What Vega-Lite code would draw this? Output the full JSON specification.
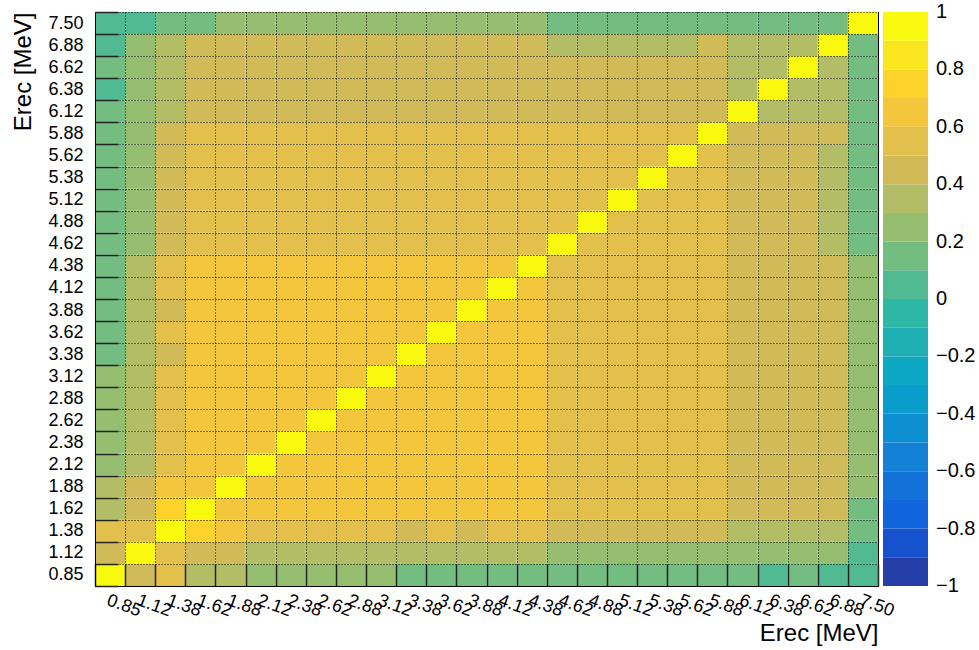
{
"$schema": "https://vega.github.io/schema/vega-lite/v6.json",
"width": 783, "height": 574,
"autosize": {"type": "none"},
"padding": {"left": 95, "top": 12, "right": 101, "bottom": 64},
"background": "white",
"config": {
  "font": "Liberation Sans",
  "view": {"stroke": "#000", "strokeWidth": 1},
  "axis": {"labelColor": "#000", "titleColor": "#000", "titleFontWeight": "normal", "domainColor": "#000", "tickColor": "#222", "tickWidth": 1.5, "gridColor": "#000", "gridDash": [1, 2], "gridOpacity": 1, "gridWidth": 1, "labelFont": "Liberation Sans", "titleFont": "Liberation Sans"}
},
"data": {"values": [
{"x":"0.85","y":"0.85","v":1},{"x":"1.12","y":"0.85","v":0.45},{"x":"1.38","y":"0.85","v":0.55},{"x":"1.62","y":"0.85","v":0.35},{"x":"1.88","y":"0.85","v":0.35},{"x":"2.12","y":"0.85","v":0.25},{"x":"2.38","y":"0.85","v":0.25},{"x":"2.62","y":"0.85","v":0.25},{"x":"2.88","y":"0.85","v":0.25},{"x":"3.12","y":"0.85","v":0.25},{"x":"3.38","y":"0.85","v":0.15},{"x":"3.62","y":"0.85","v":0.15},{"x":"3.88","y":"0.85","v":0.15},{"x":"4.12","y":"0.85","v":0.15},{"x":"4.38","y":"0.85","v":0.15},{"x":"4.62","y":"0.85","v":0.15},{"x":"4.88","y":"0.85","v":0.15},{"x":"5.12","y":"0.85","v":0.15},{"x":"5.38","y":"0.85","v":0.15},{"x":"5.62","y":"0.85","v":0.15},{"x":"5.88","y":"0.85","v":0.15},{"x":"6.12","y":"0.85","v":0.15},{"x":"6.38","y":"0.85","v":0.05},{"x":"6.62","y":"0.85","v":0.15},{"x":"6.88","y":"0.85","v":0.05},{"x":"7.50","y":"0.85","v":0.05},
{"x":"0.85","y":"1.12","v":0.45},{"x":"1.12","y":"1.12","v":1},{"x":"1.38","y":"1.12","v":0.55},{"x":"1.62","y":"1.12","v":0.45},{"x":"1.88","y":"1.12","v":0.45},{"x":"2.12","y":"1.12","v":0.35},{"x":"2.38","y":"1.12","v":0.35},{"x":"2.62","y":"1.12","v":0.35},{"x":"2.88","y":"1.12","v":0.35},{"x":"3.12","y":"1.12","v":0.35},{"x":"3.38","y":"1.12","v":0.35},{"x":"3.62","y":"1.12","v":0.35},{"x":"3.88","y":"1.12","v":0.35},{"x":"4.12","y":"1.12","v":0.35},{"x":"4.38","y":"1.12","v":0.35},{"x":"4.62","y":"1.12","v":0.25},{"x":"4.88","y":"1.12","v":0.25},{"x":"5.12","y":"1.12","v":0.25},{"x":"5.38","y":"1.12","v":0.25},{"x":"5.62","y":"1.12","v":0.25},{"x":"5.88","y":"1.12","v":0.25},{"x":"6.12","y":"1.12","v":0.25},{"x":"6.38","y":"1.12","v":0.25},{"x":"6.62","y":"1.12","v":0.25},{"x":"6.88","y":"1.12","v":0.25},{"x":"7.50","y":"1.12","v":0.05},
{"x":"0.85","y":"1.38","v":0.55},{"x":"1.12","y":"1.38","v":0.55},{"x":"1.38","y":"1.38","v":1},{"x":"1.62","y":"1.38","v":0.75},{"x":"1.88","y":"1.38","v":0.65},{"x":"2.12","y":"1.38","v":0.55},{"x":"2.38","y":"1.38","v":0.55},{"x":"2.62","y":"1.38","v":0.55},{"x":"2.88","y":"1.38","v":0.55},{"x":"3.12","y":"1.38","v":0.55},{"x":"3.38","y":"1.38","v":0.45},{"x":"3.62","y":"1.38","v":0.55},{"x":"3.88","y":"1.38","v":0.45},{"x":"4.12","y":"1.38","v":0.55},{"x":"4.38","y":"1.38","v":0.55},{"x":"4.62","y":"1.38","v":0.45},{"x":"4.88","y":"1.38","v":0.45},{"x":"5.12","y":"1.38","v":0.45},{"x":"5.38","y":"1.38","v":0.45},{"x":"5.62","y":"1.38","v":0.45},{"x":"5.88","y":"1.38","v":0.45},{"x":"6.12","y":"1.38","v":0.35},{"x":"6.38","y":"1.38","v":0.35},{"x":"6.62","y":"1.38","v":0.35},{"x":"6.88","y":"1.38","v":0.35},{"x":"7.50","y":"1.38","v":0.15},
{"x":"0.85","y":"1.62","v":0.35},{"x":"1.12","y":"1.62","v":0.45},{"x":"1.38","y":"1.62","v":0.75},{"x":"1.62","y":"1.62","v":1},{"x":"1.88","y":"1.62","v":0.65},{"x":"2.12","y":"1.62","v":0.65},{"x":"2.38","y":"1.62","v":0.65},{"x":"2.62","y":"1.62","v":0.65},{"x":"2.88","y":"1.62","v":0.65},{"x":"3.12","y":"1.62","v":0.65},{"x":"3.38","y":"1.62","v":0.65},{"x":"3.62","y":"1.62","v":0.65},{"x":"3.88","y":"1.62","v":0.65},{"x":"4.12","y":"1.62","v":0.65},{"x":"4.38","y":"1.62","v":0.65},{"x":"4.62","y":"1.62","v":0.55},{"x":"4.88","y":"1.62","v":0.55},{"x":"5.12","y":"1.62","v":0.55},{"x":"5.38","y":"1.62","v":0.55},{"x":"5.62","y":"1.62","v":0.55},{"x":"5.88","y":"1.62","v":0.55},{"x":"6.12","y":"1.62","v":0.45},{"x":"6.38","y":"1.62","v":0.45},{"x":"6.62","y":"1.62","v":0.45},{"x":"6.88","y":"1.62","v":0.45},{"x":"7.50","y":"1.62","v":0.15},
{"x":"0.85","y":"1.88","v":0.35},{"x":"1.12","y":"1.88","v":0.45},{"x":"1.38","y":"1.88","v":0.65},{"x":"1.62","y":"1.88","v":0.65},{"x":"1.88","y":"1.88","v":1},{"x":"2.12","y":"1.88","v":0.65},{"x":"2.38","y":"1.88","v":0.65},{"x":"2.62","y":"1.88","v":0.65},{"x":"2.88","y":"1.88","v":0.65},{"x":"3.12","y":"1.88","v":0.65},{"x":"3.38","y":"1.88","v":0.65},{"x":"3.62","y":"1.88","v":0.65},{"x":"3.88","y":"1.88","v":0.65},{"x":"4.12","y":"1.88","v":0.65},{"x":"4.38","y":"1.88","v":0.65},{"x":"4.62","y":"1.88","v":0.55},{"x":"4.88","y":"1.88","v":0.55},{"x":"5.12","y":"1.88","v":0.55},{"x":"5.38","y":"1.88","v":0.55},{"x":"5.62","y":"1.88","v":0.55},{"x":"5.88","y":"1.88","v":0.55},{"x":"6.12","y":"1.88","v":0.45},{"x":"6.38","y":"1.88","v":0.45},{"x":"6.62","y":"1.88","v":0.45},{"x":"6.88","y":"1.88","v":0.45},{"x":"7.50","y":"1.88","v":0.25},
{"x":"0.85","y":"2.12","v":0.25},{"x":"1.12","y":"2.12","v":0.35},{"x":"1.38","y":"2.12","v":0.55},{"x":"1.62","y":"2.12","v":0.65},{"x":"1.88","y":"2.12","v":0.65},{"x":"2.12","y":"2.12","v":1},{"x":"2.38","y":"2.12","v":0.65},{"x":"2.62","y":"2.12","v":0.65},{"x":"2.88","y":"2.12","v":0.65},{"x":"3.12","y":"2.12","v":0.65},{"x":"3.38","y":"2.12","v":0.65},{"x":"3.62","y":"2.12","v":0.65},{"x":"3.88","y":"2.12","v":0.65},{"x":"4.12","y":"2.12","v":0.65},{"x":"4.38","y":"2.12","v":0.65},{"x":"4.62","y":"2.12","v":0.55},{"x":"4.88","y":"2.12","v":0.55},{"x":"5.12","y":"2.12","v":0.55},{"x":"5.38","y":"2.12","v":0.55},{"x":"5.62","y":"2.12","v":0.55},{"x":"5.88","y":"2.12","v":0.55},{"x":"6.12","y":"2.12","v":0.45},{"x":"6.38","y":"2.12","v":0.45},{"x":"6.62","y":"2.12","v":0.45},{"x":"6.88","y":"2.12","v":0.45},{"x":"7.50","y":"2.12","v":0.25},
{"x":"0.85","y":"2.38","v":0.25},{"x":"1.12","y":"2.38","v":0.35},{"x":"1.38","y":"2.38","v":0.55},{"x":"1.62","y":"2.38","v":0.65},{"x":"1.88","y":"2.38","v":0.65},{"x":"2.12","y":"2.38","v":0.65},{"x":"2.38","y":"2.38","v":1},{"x":"2.62","y":"2.38","v":0.65},{"x":"2.88","y":"2.38","v":0.65},{"x":"3.12","y":"2.38","v":0.65},{"x":"3.38","y":"2.38","v":0.65},{"x":"3.62","y":"2.38","v":0.65},{"x":"3.88","y":"2.38","v":0.65},{"x":"4.12","y":"2.38","v":0.65},{"x":"4.38","y":"2.38","v":0.65},{"x":"4.62","y":"2.38","v":0.55},{"x":"4.88","y":"2.38","v":0.55},{"x":"5.12","y":"2.38","v":0.55},{"x":"5.38","y":"2.38","v":0.55},{"x":"5.62","y":"2.38","v":0.55},{"x":"5.88","y":"2.38","v":0.55},{"x":"6.12","y":"2.38","v":0.45},{"x":"6.38","y":"2.38","v":0.45},{"x":"6.62","y":"2.38","v":0.45},{"x":"6.88","y":"2.38","v":0.45},{"x":"7.50","y":"2.38","v":0.25},
{"x":"0.85","y":"2.62","v":0.25},{"x":"1.12","y":"2.62","v":0.35},{"x":"1.38","y":"2.62","v":0.55},{"x":"1.62","y":"2.62","v":0.65},{"x":"1.88","y":"2.62","v":0.65},{"x":"2.12","y":"2.62","v":0.65},{"x":"2.38","y":"2.62","v":0.65},{"x":"2.62","y":"2.62","v":1},{"x":"2.88","y":"2.62","v":0.65},{"x":"3.12","y":"2.62","v":0.65},{"x":"3.38","y":"2.62","v":0.65},{"x":"3.62","y":"2.62","v":0.65},{"x":"3.88","y":"2.62","v":0.65},{"x":"4.12","y":"2.62","v":0.65},{"x":"4.38","y":"2.62","v":0.65},{"x":"4.62","y":"2.62","v":0.55},{"x":"4.88","y":"2.62","v":0.55},{"x":"5.12","y":"2.62","v":0.55},{"x":"5.38","y":"2.62","v":0.55},{"x":"5.62","y":"2.62","v":0.55},{"x":"5.88","y":"2.62","v":0.55},{"x":"6.12","y":"2.62","v":0.45},{"x":"6.38","y":"2.62","v":0.45},{"x":"6.62","y":"2.62","v":0.45},{"x":"6.88","y":"2.62","v":0.45},{"x":"7.50","y":"2.62","v":0.25},
{"x":"0.85","y":"2.88","v":0.25},{"x":"1.12","y":"2.88","v":0.35},{"x":"1.38","y":"2.88","v":0.55},{"x":"1.62","y":"2.88","v":0.65},{"x":"1.88","y":"2.88","v":0.65},{"x":"2.12","y":"2.88","v":0.65},{"x":"2.38","y":"2.88","v":0.65},{"x":"2.62","y":"2.88","v":0.65},{"x":"2.88","y":"2.88","v":1},{"x":"3.12","y":"2.88","v":0.65},{"x":"3.38","y":"2.88","v":0.65},{"x":"3.62","y":"2.88","v":0.65},{"x":"3.88","y":"2.88","v":0.65},{"x":"4.12","y":"2.88","v":0.65},{"x":"4.38","y":"2.88","v":0.65},{"x":"4.62","y":"2.88","v":0.55},{"x":"4.88","y":"2.88","v":0.55},{"x":"5.12","y":"2.88","v":0.55},{"x":"5.38","y":"2.88","v":0.55},{"x":"5.62","y":"2.88","v":0.55},{"x":"5.88","y":"2.88","v":0.55},{"x":"6.12","y":"2.88","v":0.45},{"x":"6.38","y":"2.88","v":0.45},{"x":"6.62","y":"2.88","v":0.45},{"x":"6.88","y":"2.88","v":0.45},{"x":"7.50","y":"2.88","v":0.25},
{"x":"0.85","y":"3.12","v":0.25},{"x":"1.12","y":"3.12","v":0.35},{"x":"1.38","y":"3.12","v":0.55},{"x":"1.62","y":"3.12","v":0.65},{"x":"1.88","y":"3.12","v":0.65},{"x":"2.12","y":"3.12","v":0.65},{"x":"2.38","y":"3.12","v":0.65},{"x":"2.62","y":"3.12","v":0.65},{"x":"2.88","y":"3.12","v":0.65},{"x":"3.12","y":"3.12","v":1},{"x":"3.38","y":"3.12","v":0.65},{"x":"3.62","y":"3.12","v":0.65},{"x":"3.88","y":"3.12","v":0.65},{"x":"4.12","y":"3.12","v":0.65},{"x":"4.38","y":"3.12","v":0.65},{"x":"4.62","y":"3.12","v":0.55},{"x":"4.88","y":"3.12","v":0.55},{"x":"5.12","y":"3.12","v":0.55},{"x":"5.38","y":"3.12","v":0.55},{"x":"5.62","y":"3.12","v":0.55},{"x":"5.88","y":"3.12","v":0.55},{"x":"6.12","y":"3.12","v":0.45},{"x":"6.38","y":"3.12","v":0.45},{"x":"6.62","y":"3.12","v":0.45},{"x":"6.88","y":"3.12","v":0.45},{"x":"7.50","y":"3.12","v":0.25},
{"x":"0.85","y":"3.38","v":0.15},{"x":"1.12","y":"3.38","v":0.35},{"x":"1.38","y":"3.38","v":0.45},{"x":"1.62","y":"3.38","v":0.65},{"x":"1.88","y":"3.38","v":0.65},{"x":"2.12","y":"3.38","v":0.65},{"x":"2.38","y":"3.38","v":0.65},{"x":"2.62","y":"3.38","v":0.65},{"x":"2.88","y":"3.38","v":0.65},{"x":"3.12","y":"3.38","v":0.65},{"x":"3.38","y":"3.38","v":1},{"x":"3.62","y":"3.38","v":0.65},{"x":"3.88","y":"3.38","v":0.65},{"x":"4.12","y":"3.38","v":0.65},{"x":"4.38","y":"3.38","v":0.65},{"x":"4.62","y":"3.38","v":0.55},{"x":"4.88","y":"3.38","v":0.55},{"x":"5.12","y":"3.38","v":0.55},{"x":"5.38","y":"3.38","v":0.55},{"x":"5.62","y":"3.38","v":0.55},{"x":"5.88","y":"3.38","v":0.55},{"x":"6.12","y":"3.38","v":0.45},{"x":"6.38","y":"3.38","v":0.45},{"x":"6.62","y":"3.38","v":0.45},{"x":"6.88","y":"3.38","v":0.45},{"x":"7.50","y":"3.38","v":0.25},
{"x":"0.85","y":"3.62","v":0.15},{"x":"1.12","y":"3.62","v":0.35},{"x":"1.38","y":"3.62","v":0.55},{"x":"1.62","y":"3.62","v":0.65},{"x":"1.88","y":"3.62","v":0.65},{"x":"2.12","y":"3.62","v":0.65},{"x":"2.38","y":"3.62","v":0.65},{"x":"2.62","y":"3.62","v":0.65},{"x":"2.88","y":"3.62","v":0.65},{"x":"3.12","y":"3.62","v":0.65},{"x":"3.38","y":"3.62","v":0.65},{"x":"3.62","y":"3.62","v":1},{"x":"3.88","y":"3.62","v":0.65},{"x":"4.12","y":"3.62","v":0.65},{"x":"4.38","y":"3.62","v":0.65},{"x":"4.62","y":"3.62","v":0.55},{"x":"4.88","y":"3.62","v":0.55},{"x":"5.12","y":"3.62","v":0.55},{"x":"5.38","y":"3.62","v":0.55},{"x":"5.62","y":"3.62","v":0.55},{"x":"5.88","y":"3.62","v":0.55},{"x":"6.12","y":"3.62","v":0.45},{"x":"6.38","y":"3.62","v":0.45},{"x":"6.62","y":"3.62","v":0.45},{"x":"6.88","y":"3.62","v":0.45},{"x":"7.50","y":"3.62","v":0.25},
{"x":"0.85","y":"3.88","v":0.15},{"x":"1.12","y":"3.88","v":0.35},{"x":"1.38","y":"3.88","v":0.45},{"x":"1.62","y":"3.88","v":0.65},{"x":"1.88","y":"3.88","v":0.65},{"x":"2.12","y":"3.88","v":0.65},{"x":"2.38","y":"3.88","v":0.65},{"x":"2.62","y":"3.88","v":0.65},{"x":"2.88","y":"3.88","v":0.65},{"x":"3.12","y":"3.88","v":0.65},{"x":"3.38","y":"3.88","v":0.65},{"x":"3.62","y":"3.88","v":0.65},{"x":"3.88","y":"3.88","v":1},{"x":"4.12","y":"3.88","v":0.65},{"x":"4.38","y":"3.88","v":0.65},{"x":"4.62","y":"3.88","v":0.55},{"x":"4.88","y":"3.88","v":0.55},{"x":"5.12","y":"3.88","v":0.55},{"x":"5.38","y":"3.88","v":0.55},{"x":"5.62","y":"3.88","v":0.55},{"x":"5.88","y":"3.88","v":0.55},{"x":"6.12","y":"3.88","v":0.45},{"x":"6.38","y":"3.88","v":0.45},{"x":"6.62","y":"3.88","v":0.45},{"x":"6.88","y":"3.88","v":0.45},{"x":"7.50","y":"3.88","v":0.25},
{"x":"0.85","y":"4.12","v":0.15},{"x":"1.12","y":"4.12","v":0.35},{"x":"1.38","y":"4.12","v":0.55},{"x":"1.62","y":"4.12","v":0.65},{"x":"1.88","y":"4.12","v":0.65},{"x":"2.12","y":"4.12","v":0.65},{"x":"2.38","y":"4.12","v":0.65},{"x":"2.62","y":"4.12","v":0.65},{"x":"2.88","y":"4.12","v":0.65},{"x":"3.12","y":"4.12","v":0.65},{"x":"3.38","y":"4.12","v":0.65},{"x":"3.62","y":"4.12","v":0.65},{"x":"3.88","y":"4.12","v":0.65},{"x":"4.12","y":"4.12","v":1},{"x":"4.38","y":"4.12","v":0.65},{"x":"4.62","y":"4.12","v":0.55},{"x":"4.88","y":"4.12","v":0.55},{"x":"5.12","y":"4.12","v":0.55},{"x":"5.38","y":"4.12","v":0.55},{"x":"5.62","y":"4.12","v":0.55},{"x":"5.88","y":"4.12","v":0.55},{"x":"6.12","y":"4.12","v":0.45},{"x":"6.38","y":"4.12","v":0.45},{"x":"6.62","y":"4.12","v":0.45},{"x":"6.88","y":"4.12","v":0.45},{"x":"7.50","y":"4.12","v":0.25},
{"x":"0.85","y":"4.38","v":0.15},{"x":"1.12","y":"4.38","v":0.35},{"x":"1.38","y":"4.38","v":0.55},{"x":"1.62","y":"4.38","v":0.65},{"x":"1.88","y":"4.38","v":0.65},{"x":"2.12","y":"4.38","v":0.65},{"x":"2.38","y":"4.38","v":0.65},{"x":"2.62","y":"4.38","v":0.65},{"x":"2.88","y":"4.38","v":0.65},{"x":"3.12","y":"4.38","v":0.65},{"x":"3.38","y":"4.38","v":0.65},{"x":"3.62","y":"4.38","v":0.65},{"x":"3.88","y":"4.38","v":0.65},{"x":"4.12","y":"4.38","v":0.65},{"x":"4.38","y":"4.38","v":1},{"x":"4.62","y":"4.38","v":0.55},{"x":"4.88","y":"4.38","v":0.55},{"x":"5.12","y":"4.38","v":0.55},{"x":"5.38","y":"4.38","v":0.55},{"x":"5.62","y":"4.38","v":0.55},{"x":"5.88","y":"4.38","v":0.55},{"x":"6.12","y":"4.38","v":0.45},{"x":"6.38","y":"4.38","v":0.45},{"x":"6.62","y":"4.38","v":0.45},{"x":"6.88","y":"4.38","v":0.45},{"x":"7.50","y":"4.38","v":0.25},
{"x":"0.85","y":"4.62","v":0.15},{"x":"1.12","y":"4.62","v":0.25},{"x":"1.38","y":"4.62","v":0.45},{"x":"1.62","y":"4.62","v":0.55},{"x":"1.88","y":"4.62","v":0.55},{"x":"2.12","y":"4.62","v":0.55},{"x":"2.38","y":"4.62","v":0.55},{"x":"2.62","y":"4.62","v":0.55},{"x":"2.88","y":"4.62","v":0.55},{"x":"3.12","y":"4.62","v":0.55},{"x":"3.38","y":"4.62","v":0.55},{"x":"3.62","y":"4.62","v":0.55},{"x":"3.88","y":"4.62","v":0.55},{"x":"4.12","y":"4.62","v":0.55},{"x":"4.38","y":"4.62","v":0.55},{"x":"4.62","y":"4.62","v":1},{"x":"4.88","y":"4.62","v":0.55},{"x":"5.12","y":"4.62","v":0.55},{"x":"5.38","y":"4.62","v":0.55},{"x":"5.62","y":"4.62","v":0.55},{"x":"5.88","y":"4.62","v":0.55},{"x":"6.12","y":"4.62","v":0.45},{"x":"6.38","y":"4.62","v":0.45},{"x":"6.62","y":"4.62","v":0.45},{"x":"6.88","y":"4.62","v":0.35},{"x":"7.50","y":"4.62","v":0.15},
{"x":"0.85","y":"4.88","v":0.15},{"x":"1.12","y":"4.88","v":0.25},{"x":"1.38","y":"4.88","v":0.45},{"x":"1.62","y":"4.88","v":0.55},{"x":"1.88","y":"4.88","v":0.55},{"x":"2.12","y":"4.88","v":0.55},{"x":"2.38","y":"4.88","v":0.55},{"x":"2.62","y":"4.88","v":0.55},{"x":"2.88","y":"4.88","v":0.55},{"x":"3.12","y":"4.88","v":0.55},{"x":"3.38","y":"4.88","v":0.55},{"x":"3.62","y":"4.88","v":0.55},{"x":"3.88","y":"4.88","v":0.55},{"x":"4.12","y":"4.88","v":0.55},{"x":"4.38","y":"4.88","v":0.55},{"x":"4.62","y":"4.88","v":0.55},{"x":"4.88","y":"4.88","v":1},{"x":"5.12","y":"4.88","v":0.55},{"x":"5.38","y":"4.88","v":0.55},{"x":"5.62","y":"4.88","v":0.55},{"x":"5.88","y":"4.88","v":0.55},{"x":"6.12","y":"4.88","v":0.45},{"x":"6.38","y":"4.88","v":0.45},{"x":"6.62","y":"4.88","v":0.45},{"x":"6.88","y":"4.88","v":0.35},{"x":"7.50","y":"4.88","v":0.15},
{"x":"0.85","y":"5.12","v":0.15},{"x":"1.12","y":"5.12","v":0.25},{"x":"1.38","y":"5.12","v":0.45},{"x":"1.62","y":"5.12","v":0.55},{"x":"1.88","y":"5.12","v":0.55},{"x":"2.12","y":"5.12","v":0.55},{"x":"2.38","y":"5.12","v":0.55},{"x":"2.62","y":"5.12","v":0.55},{"x":"2.88","y":"5.12","v":0.55},{"x":"3.12","y":"5.12","v":0.55},{"x":"3.38","y":"5.12","v":0.55},{"x":"3.62","y":"5.12","v":0.55},{"x":"3.88","y":"5.12","v":0.55},{"x":"4.12","y":"5.12","v":0.55},{"x":"4.38","y":"5.12","v":0.55},{"x":"4.62","y":"5.12","v":0.55},{"x":"4.88","y":"5.12","v":0.55},{"x":"5.12","y":"5.12","v":1},{"x":"5.38","y":"5.12","v":0.55},{"x":"5.62","y":"5.12","v":0.55},{"x":"5.88","y":"5.12","v":0.55},{"x":"6.12","y":"5.12","v":0.45},{"x":"6.38","y":"5.12","v":0.45},{"x":"6.62","y":"5.12","v":0.45},{"x":"6.88","y":"5.12","v":0.35},{"x":"7.50","y":"5.12","v":0.15},
{"x":"0.85","y":"5.38","v":0.15},{"x":"1.12","y":"5.38","v":0.25},{"x":"1.38","y":"5.38","v":0.45},{"x":"1.62","y":"5.38","v":0.55},{"x":"1.88","y":"5.38","v":0.55},{"x":"2.12","y":"5.38","v":0.55},{"x":"2.38","y":"5.38","v":0.55},{"x":"2.62","y":"5.38","v":0.55},{"x":"2.88","y":"5.38","v":0.55},{"x":"3.12","y":"5.38","v":0.55},{"x":"3.38","y":"5.38","v":0.55},{"x":"3.62","y":"5.38","v":0.55},{"x":"3.88","y":"5.38","v":0.55},{"x":"4.12","y":"5.38","v":0.55},{"x":"4.38","y":"5.38","v":0.55},{"x":"4.62","y":"5.38","v":0.55},{"x":"4.88","y":"5.38","v":0.55},{"x":"5.12","y":"5.38","v":0.55},{"x":"5.38","y":"5.38","v":1},{"x":"5.62","y":"5.38","v":0.55},{"x":"5.88","y":"5.38","v":0.55},{"x":"6.12","y":"5.38","v":0.45},{"x":"6.38","y":"5.38","v":0.45},{"x":"6.62","y":"5.38","v":0.45},{"x":"6.88","y":"5.38","v":0.35},{"x":"7.50","y":"5.38","v":0.15},
{"x":"0.85","y":"5.62","v":0.15},{"x":"1.12","y":"5.62","v":0.25},{"x":"1.38","y":"5.62","v":0.45},{"x":"1.62","y":"5.62","v":0.55},{"x":"1.88","y":"5.62","v":0.55},{"x":"2.12","y":"5.62","v":0.55},{"x":"2.38","y":"5.62","v":0.55},{"x":"2.62","y":"5.62","v":0.55},{"x":"2.88","y":"5.62","v":0.55},{"x":"3.12","y":"5.62","v":0.55},{"x":"3.38","y":"5.62","v":0.55},{"x":"3.62","y":"5.62","v":0.55},{"x":"3.88","y":"5.62","v":0.55},{"x":"4.12","y":"5.62","v":0.55},{"x":"4.38","y":"5.62","v":0.55},{"x":"4.62","y":"5.62","v":0.55},{"x":"4.88","y":"5.62","v":0.55},{"x":"5.12","y":"5.62","v":0.55},{"x":"5.38","y":"5.62","v":0.55},{"x":"5.62","y":"5.62","v":1},{"x":"5.88","y":"5.62","v":0.55},{"x":"6.12","y":"5.62","v":0.45},{"x":"6.38","y":"5.62","v":0.45},{"x":"6.62","y":"5.62","v":0.45},{"x":"6.88","y":"5.62","v":0.35},{"x":"7.50","y":"5.62","v":0.15},
{"x":"0.85","y":"5.88","v":0.15},{"x":"1.12","y":"5.88","v":0.25},{"x":"1.38","y":"5.88","v":0.45},{"x":"1.62","y":"5.88","v":0.55},{"x":"1.88","y":"5.88","v":0.55},{"x":"2.12","y":"5.88","v":0.55},{"x":"2.38","y":"5.88","v":0.55},{"x":"2.62","y":"5.88","v":0.55},{"x":"2.88","y":"5.88","v":0.55},{"x":"3.12","y":"5.88","v":0.55},{"x":"3.38","y":"5.88","v":0.55},{"x":"3.62","y":"5.88","v":0.55},{"x":"3.88","y":"5.88","v":0.55},{"x":"4.12","y":"5.88","v":0.55},{"x":"4.38","y":"5.88","v":0.55},{"x":"4.62","y":"5.88","v":0.55},{"x":"4.88","y":"5.88","v":0.55},{"x":"5.12","y":"5.88","v":0.55},{"x":"5.38","y":"5.88","v":0.55},{"x":"5.62","y":"5.88","v":0.55},{"x":"5.88","y":"5.88","v":1},{"x":"6.12","y":"5.88","v":0.45},{"x":"6.38","y":"5.88","v":0.45},{"x":"6.62","y":"5.88","v":0.45},{"x":"6.88","y":"5.88","v":0.45},{"x":"7.50","y":"5.88","v":0.15},
{"x":"0.85","y":"6.12","v":0.15},{"x":"1.12","y":"6.12","v":0.25},{"x":"1.38","y":"6.12","v":0.35},{"x":"1.62","y":"6.12","v":0.45},{"x":"1.88","y":"6.12","v":0.45},{"x":"2.12","y":"6.12","v":0.45},{"x":"2.38","y":"6.12","v":0.45},{"x":"2.62","y":"6.12","v":0.45},{"x":"2.88","y":"6.12","v":0.45},{"x":"3.12","y":"6.12","v":0.45},{"x":"3.38","y":"6.12","v":0.45},{"x":"3.62","y":"6.12","v":0.45},{"x":"3.88","y":"6.12","v":0.45},{"x":"4.12","y":"6.12","v":0.45},{"x":"4.38","y":"6.12","v":0.45},{"x":"4.62","y":"6.12","v":0.45},{"x":"4.88","y":"6.12","v":0.45},{"x":"5.12","y":"6.12","v":0.45},{"x":"5.38","y":"6.12","v":0.45},{"x":"5.62","y":"6.12","v":0.45},{"x":"5.88","y":"6.12","v":0.45},{"x":"6.12","y":"6.12","v":1},{"x":"6.38","y":"6.12","v":0.35},{"x":"6.62","y":"6.12","v":0.35},{"x":"6.88","y":"6.12","v":0.35},{"x":"7.50","y":"6.12","v":0.15},
{"x":"0.85","y":"6.38","v":0.05},{"x":"1.12","y":"6.38","v":0.25},{"x":"1.38","y":"6.38","v":0.35},{"x":"1.62","y":"6.38","v":0.45},{"x":"1.88","y":"6.38","v":0.45},{"x":"2.12","y":"6.38","v":0.45},{"x":"2.38","y":"6.38","v":0.45},{"x":"2.62","y":"6.38","v":0.45},{"x":"2.88","y":"6.38","v":0.45},{"x":"3.12","y":"6.38","v":0.45},{"x":"3.38","y":"6.38","v":0.45},{"x":"3.62","y":"6.38","v":0.45},{"x":"3.88","y":"6.38","v":0.45},{"x":"4.12","y":"6.38","v":0.45},{"x":"4.38","y":"6.38","v":0.45},{"x":"4.62","y":"6.38","v":0.45},{"x":"4.88","y":"6.38","v":0.45},{"x":"5.12","y":"6.38","v":0.45},{"x":"5.38","y":"6.38","v":0.45},{"x":"5.62","y":"6.38","v":0.45},{"x":"5.88","y":"6.38","v":0.45},{"x":"6.12","y":"6.38","v":0.35},{"x":"6.38","y":"6.38","v":1},{"x":"6.62","y":"6.38","v":0.35},{"x":"6.88","y":"6.38","v":0.35},{"x":"7.50","y":"6.38","v":0.15},
{"x":"0.85","y":"6.62","v":0.15},{"x":"1.12","y":"6.62","v":0.25},{"x":"1.38","y":"6.62","v":0.35},{"x":"1.62","y":"6.62","v":0.45},{"x":"1.88","y":"6.62","v":0.45},{"x":"2.12","y":"6.62","v":0.45},{"x":"2.38","y":"6.62","v":0.45},{"x":"2.62","y":"6.62","v":0.45},{"x":"2.88","y":"6.62","v":0.45},{"x":"3.12","y":"6.62","v":0.45},{"x":"3.38","y":"6.62","v":0.45},{"x":"3.62","y":"6.62","v":0.45},{"x":"3.88","y":"6.62","v":0.45},{"x":"4.12","y":"6.62","v":0.45},{"x":"4.38","y":"6.62","v":0.45},{"x":"4.62","y":"6.62","v":0.45},{"x":"4.88","y":"6.62","v":0.45},{"x":"5.12","y":"6.62","v":0.45},{"x":"5.38","y":"6.62","v":0.45},{"x":"5.62","y":"6.62","v":0.45},{"x":"5.88","y":"6.62","v":0.45},{"x":"6.12","y":"6.62","v":0.35},{"x":"6.38","y":"6.62","v":0.35},{"x":"6.62","y":"6.62","v":1},{"x":"6.88","y":"6.62","v":0.35},{"x":"7.50","y":"6.62","v":0.15},
{"x":"0.85","y":"6.88","v":0.05},{"x":"1.12","y":"6.88","v":0.25},{"x":"1.38","y":"6.88","v":0.35},{"x":"1.62","y":"6.88","v":0.45},{"x":"1.88","y":"6.88","v":0.45},{"x":"2.12","y":"6.88","v":0.45},{"x":"2.38","y":"6.88","v":0.45},{"x":"2.62","y":"6.88","v":0.45},{"x":"2.88","y":"6.88","v":0.45},{"x":"3.12","y":"6.88","v":0.45},{"x":"3.38","y":"6.88","v":0.45},{"x":"3.62","y":"6.88","v":0.45},{"x":"3.88","y":"6.88","v":0.45},{"x":"4.12","y":"6.88","v":0.45},{"x":"4.38","y":"6.88","v":0.45},{"x":"4.62","y":"6.88","v":0.35},{"x":"4.88","y":"6.88","v":0.35},{"x":"5.12","y":"6.88","v":0.35},{"x":"5.38","y":"6.88","v":0.35},{"x":"5.62","y":"6.88","v":0.35},{"x":"5.88","y":"6.88","v":0.45},{"x":"6.12","y":"6.88","v":0.35},{"x":"6.38","y":"6.88","v":0.35},{"x":"6.62","y":"6.88","v":0.35},{"x":"6.88","y":"6.88","v":1},{"x":"7.50","y":"6.88","v":0.15},
{"x":"0.85","y":"7.50","v":0.05},{"x":"1.12","y":"7.50","v":0.05},{"x":"1.38","y":"7.50","v":0.15},{"x":"1.62","y":"7.50","v":0.15},{"x":"1.88","y":"7.50","v":0.25},{"x":"2.12","y":"7.50","v":0.25},{"x":"2.38","y":"7.50","v":0.25},{"x":"2.62","y":"7.50","v":0.25},{"x":"2.88","y":"7.50","v":0.25},{"x":"3.12","y":"7.50","v":0.25},{"x":"3.38","y":"7.50","v":0.25},{"x":"3.62","y":"7.50","v":0.25},{"x":"3.88","y":"7.50","v":0.25},{"x":"4.12","y":"7.50","v":0.25},{"x":"4.38","y":"7.50","v":0.25},{"x":"4.62","y":"7.50","v":0.15},{"x":"4.88","y":"7.50","v":0.15},{"x":"5.12","y":"7.50","v":0.15},{"x":"5.38","y":"7.50","v":0.15},{"x":"5.62","y":"7.50","v":0.15},{"x":"5.88","y":"7.50","v":0.15},{"x":"6.12","y":"7.50","v":0.15},{"x":"6.38","y":"7.50","v":0.15},{"x":"6.62","y":"7.50","v":0.15},{"x":"6.88","y":"7.50","v":0.15},{"x":"7.50","y":"7.50","v":1}
]},
"mark": {"type": "rect"},
"encoding": {
  "x": {"field": "x", "type": "ordinal",
    "scale": {"domain": ["0.85","1.12","1.38","1.62","1.88","2.12","2.38","2.62","2.88","3.12","3.38","3.62","3.88","4.12","4.38","4.62","4.88","5.12","5.38","5.62","5.88","6.12","6.38","6.62","6.88","7.50"], "paddingInner": 0, "paddingOuter": 0},
    "axis": {"title": "Erec [MeV]", "titleAnchor": "end", "titleFontSize": 24, "titlePadding": 2,
      "labelAngle": 20, "labelAlign": "left", "labelBaseline": "top", "labelFontSize": 18, "labelPadding": 27, "labelOverlap": false,
      "tickBand": "extent", "tickSize": -22, "grid": true, "zindex": 1, "domain": true}},
  "y": {"field": "y", "type": "ordinal",
    "scale": {"domain": ["7.50","6.88","6.62","6.38","6.12","5.88","5.62","5.38","5.12","4.88","4.62","4.38","4.12","3.88","3.62","3.38","3.12","2.88","2.62","2.38","2.12","1.88","1.62","1.38","1.12","0.85"], "paddingInner": 0, "paddingOuter": 0},
    "axis": {"title": "Erec [MeV]", "titleAnchor": "start", "titleAlign": "right", "titleFontSize": 24, "titlePadding": 12,
      "labelFontSize": 18, "labelPadding": 35, "labelOverlap": false,
      "tickBand": "extent", "tickSize": -23, "grid": true, "zindex": 1, "domain": true}},
  "color": {"field": "v", "type": "quantitative",
    "scale": {"type": "threshold", "domain": [-1, -0.9, -0.8, -0.7, -0.6, -0.5, -0.4, -0.3, -0.2, -0.1, 0, 0.1, 0.2, 0.3, 0.4, 0.5, 0.6, 0.7, 0.8, 0.9, 1.0001],
      "range": ["rgba(255,255,255,0)","#263ea8","#1652cd","#1064dc","#1272d9","#1481d6","#0e8fd1","#099dcc","#0da7c3","#1eafb3","#2eb7a4","#52ba92","#74bd81","#95be71","#b3bd65","#d1bb59","#e2c04b","#f4c63b","#fdd22b","#fbe61d","#f9f90f","rgba(255,255,255,0)"]},
    "legend": {"type": "gradient", "orient": "none", "legendX": 788, "legendY": -28.7, "direction": "vertical", "title": null, "padding": 0,
      "gradientLength": 631.4, "gradientThickness": 45,
      "labelFontSize": 20, "labelOffset": 8, "labelOverlap": false, "labelColor": "#000", "labelFont": "Liberation Sans",
      "labelExpr": "abs(round(datum.value*10)) % 2 == 0 ? format(round(datum.value*10)/10, '~g') : ''"}}
}
}
